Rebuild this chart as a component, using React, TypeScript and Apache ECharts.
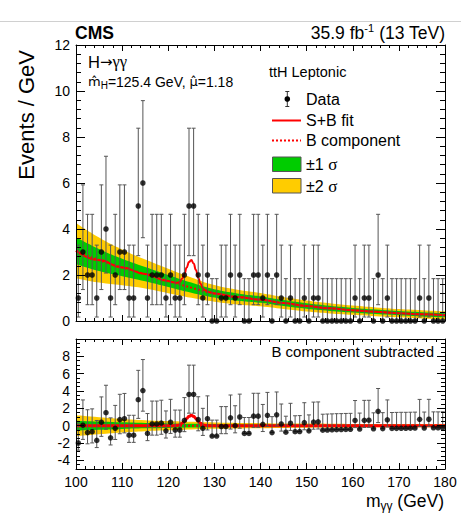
import React, { useEffect, useRef } from "react";
import * as echarts from "echarts";

// ---------- data ----------
const BIN_CENTERS: number[] = Array.from({ length: 80 }, (_, i) => 100.5 + i);

const COUNTS = [
  1, 3, 2, 2, 1, 3, 4, 1, 2, 3,
  3, 1, 1, 5, 6, 1, 2, 2, 2, 1,
  2, 1, 1, 2, 5, 5, 2, 1, 2, 0,
  0, 1, 1, 2, 1, 2, 0, 0, 2, 2,
  1, 2, 0, 2, 1, 0, 1, 0, 0, 1,
  0, 1, 1, 0, 0, 0, 0, 0, 0, 0,
  1, 0, 1, 1, 0, 2, 0, 1, 0, 0,
  0, 0, 0, 0, 1, 0, 1, 0, 0, 0,
];

const SUBTRACTED = [
  -2.0, 0.05, -0.8, -0.7, -1.7, 0.4, 1.5, -1.4, -0.3, 0.7,
  0.8, -1.1, -1.1, 3.0, 4.05, -0.9, 0.2, 0.2, 0.3, -0.6,
  0.4, -0.5, -0.5, 0.6, 3.6, 3.6, 0.7, -0.3, 0.8, -1.2,
  -1.2, -0.1, -0.1, 0.9, 0.0, 1.0, -0.9, -0.9, 1.1, 1.1,
  0.15, 1.2, -0.8, 1.25, 0.2, -0.75, 0.28, -0.7, -0.68, 0.35,
  -0.6, 0.42, 0.44, -0.52, -0.5, -0.48, -0.46, -0.45, -0.43, -0.42,
  0.6, -0.39, 0.62, 0.63, -0.36, 1.65, -0.34, 0.67, -0.32, -0.31,
  -0.3, -0.3, -0.29, -0.28, 0.73, -0.27, 0.74, -0.25, -0.25, -0.24,
];

// 68% Poisson (Garwood) interval lengths below / above a count n
const POISSON_ERR_LO = [0, 0.827, 1.292, 1.633, 1.914, 2.159, 2.379];
const POISSON_ERR_HI = [1.841, 2.299, 2.638, 2.918, 3.163, 3.383, 3.581];

const FIT_X = [100, 105, 110, 115, 120, 125, 130, 135, 140, 145, 150, 155, 160, 165, 170, 175, 180];
const B_FIT = [3.06, 2.65, 2.33, 2.04, 1.74, 1.45, 1.2, 1.04, 0.93, 0.78, 0.65, 0.55, 0.47, 0.4, 0.34, 0.29, 0.25];
const SIGMA1 = [0.58, 0.48, 0.38, 0.31, 0.26, 0.22, 0.18, 0.16, 0.14, 0.13, 0.12, 0.11, 0.1, 0.1, 0.09, 0.09, 0.09];
const SIGMA2 = [1.2, 0.98, 0.78, 0.63, 0.53, 0.44, 0.36, 0.32, 0.29, 0.26, 0.24, 0.22, 0.2, 0.19, 0.18, 0.18, 0.17];

const PEAK_X = [120, 121, 122, 122.5, 123, 123.5, 124, 124.5, 125, 125.5, 126, 126.5, 127, 127.5, 128, 129, 130];
const PEAK_SB = [1.74, 1.68, 1.66, 1.7, 1.84, 2.04, 2.33, 2.56, 2.65, 2.5, 2.22, 1.87, 1.62, 1.43, 1.34, 1.25, 1.2];
const PEAK_S = [0, 0.003, 0.04, 0.1, 0.27, 0.5, 0.82, 1.08, 1.2, 1.08, 0.82, 0.5, 0.27, 0.11, 0.04, 0.004, 0];

// ---------- styling ----------
const FONT = '"Liberation Sans", Arial, Helvetica, sans-serif';
const DEJAVU = '"DejaVu Sans", sans-serif';
const SERIF = '"Liberation Serif", "DejaVu Serif", serif';
const RED = "#ff0000";
const GREEN = "#00cc00";
const YELLOW = "#ffcc00";

const W = 461;
const H = 519;

function xAxis(grid: number, pos: string, labels: boolean) {
  return {
    type: "value",
    gridIndex: grid,
    position: pos,
    min: 100,
    max: 180,
    interval: 10,
    z: 10,
    axisLine: { show: true, onZero: false, lineStyle: { color: "#000", width: 1 } },
    axisTick: { show: true, inside: true, length: 6, lineStyle: { color: "#000", width: 1 } },
    minorTick: { show: true, splitNumber: 5, length: 3, lineStyle: { color: "#000", width: 1 } },
    splitLine: { show: false },
    minorSplitLine: { show: false },
    axisLabel: { show: labels, color: "#000", fontSize: 14, fontFamily: FONT, margin: 6 },
  };
}

function yMain(pos: string, labels: boolean) {
  return {
    type: "value",
    gridIndex: 0,
    position: pos,
    min: 0,
    max: 12,
    interval: 2,
    z: 10,
    axisLine: { show: true, onZero: false, lineStyle: { color: "#000", width: 1 } },
    axisTick: { show: true, inside: true, length: 9, lineStyle: { color: "#000", width: 1 } },
    minorTick: { show: true, splitNumber: 5, length: 5, lineStyle: { color: "#000", width: 1 } },
    splitLine: { show: false },
    minorSplitLine: { show: false },
    axisLabel: { show: labels, color: "#000", fontSize: 14, fontFamily: FONT, margin: 6 },
  };
}

function yLower(pos: string, labels: boolean) {
  return {
    type: "value",
    gridIndex: 1,
    position: pos,
    min: -5,
    max: 10,
    splitNumber: 7,
    minInterval: 2,
    maxInterval: 2,
    z: 10,
    axisLine: { show: true, onZero: false, lineStyle: { color: "#000", width: 1 } },
    axisTick: { show: true, inside: true, length: 8, lineStyle: { color: "#000", width: 1 } },
    minorTick: { show: true, splitNumber: 4, length: 4, lineStyle: { color: "#000", width: 1 } },
    splitLine: { show: false },
    minorSplitLine: { show: false },
    axisLabel: {
      show: labels,
      color: "#000",
      fontSize: 14,
      fontFamily: FONT,
      margin: 6,
      showMinLabel: false,
      showMaxLabel: false,
    },
  };
}

// Band drawn by painter's order: each curve filled down to the axis start
function bandSeries(xi: number, yi: number, center: number[] | null) {
  const c = (i: number) => (center ? center[i] : 0);
  const layers: [number[], string][] = [
    [FIT_X.map((_, i) => c(i) + SIGMA2[i]), YELLOW],
    [FIT_X.map((_, i) => c(i) + SIGMA1[i]), GREEN],
    [FIT_X.map((_, i) => c(i) - SIGMA1[i]), YELLOW],
    [FIT_X.map((_, i) => c(i) - SIGMA2[i]), "#ffffff"],
  ];
  return layers.map(([vals, color]) => ({
    type: "line",
    xAxisIndex: xi,
    yAxisIndex: yi,
    data: FIT_X.map((x, i) => [x, vals[i]]),
    smooth: true,
    symbol: "none",
    silent: true,
    z: 1,
    lineStyle: { width: 0, opacity: 0 },
    areaStyle: { color, opacity: 1, origin: "start" },
  }));
}

function errorBars(xi: number, yi: number, centers: number[]) {
  const data = BIN_CENTERS.map((x, i) => [
    x,
    centers[i] - POISSON_ERR_LO[COUNTS[i]],
    centers[i] + POISSON_ERR_HI[COUNTS[i]],
  ]);
  return {
    type: "custom",
    xAxisIndex: xi,
    yAxisIndex: yi,
    z: 4,
    silent: true,
    clip: false,
    data,
    encode: { x: 0, y: [1, 2] },
    renderItem: (params: any, api: any) => {
      const x = api.value(0);
      const a = api.coord([x, api.value(1)]);
      const b = api.coord([x, api.value(2)]);
      const cap = 2;
      const st = { stroke: "#555", lineWidth: 1, fill: "none" };
      return {
        type: "group",
        children: [
          { type: "line", shape: { x1: a[0], y1: a[1], x2: b[0], y2: b[1] }, style: st },
          { type: "line", shape: { x1: a[0] - cap, y1: a[1], x2: a[0] + cap, y2: a[1] }, style: st },
          { type: "line", shape: { x1: b[0] - cap, y1: b[1], x2: b[0] + cap, y2: b[1] }, style: st },
        ],
      };
    },
  };
}

function dots(xi: number, yi: number, vals: number[]) {
  return {
    type: "scatter",
    xAxisIndex: xi,
    yAxisIndex: yi,
    z: 5,
    clip: false,
    silent: true,
    symbol: "circle",
    symbolSize: 5.5,
    itemStyle: { color: "#000" },
    data: BIN_CENTERS.map((x, i) => [x, vals[i]]),
  };
}

function mergedPeak(base: number[], peak: number[]) {
  const pts: number[][] = [];
  FIT_X.forEach((x, i) => {
    if (x < PEAK_X[0]) pts.push([x, base[i]]);
  });
  PEAK_X.forEach((x, i) => pts.push([x, peak[i]]));
  FIT_X.forEach((x, i) => {
    if (x > PEAK_X[PEAK_X.length - 1]) pts.push([x, base[i]]);
  });
  return pts;
}

function txt(x: number, y: number, text: string, size: number, opts: any = {}) {
  return {
    type: "text",
    x,
    y,
    z: 20,
    rotation: opts.rotation || 0,
    style: {
      text,
      fill: "#000",
      fontSize: size,
      fontFamily: opts.family || FONT,
      fontWeight: opts.weight || "normal",
      align: opts.align || "left",
      verticalAlign: "middle",
      textAlign: opts.align || "left",
      textVerticalAlign: "middle",
      rich: opts.rich,
    },
  };
}

export default function App() {
  const ref = useRef<HTMLDivElement>(null);

  useEffect(() => {
    if (!ref.current) return;
    const chart = echarts.init(ref.current, null, { renderer: "svg", width: W, height: H });

    const zeros = FIT_X.map(() => 0);

    const option: any = {
      animation: false,
      backgroundColor: "#ffffff",
      grid: [
        { left: 76, top: 45, width: 369, height: 276, show: false },
        { left: 76, top: 339, width: 369, height: 130, show: false },
      ],
      xAxis: [xAxis(0, "bottom", false), xAxis(0, "top", false), xAxis(1, "bottom", true), xAxis(1, "top", false)],
      yAxis: [yMain("left", true), yMain("right", false), yLower("left", true), yLower("right", false)],
      series: [
        ...bandSeries(0, 0, B_FIT),
        {
          type: "line",
          xAxisIndex: 0,
          yAxisIndex: 0,
          z: 3,
          silent: true,
          symbol: "none",
          smooth: true,
          data: FIT_X.map((x, i) => [x, B_FIT[i]]),
          lineStyle: { color: RED, width: 2, type: [2, 2] },
        },
        {
          type: "line",
          xAxisIndex: 0,
          yAxisIndex: 0,
          z: 3,
          silent: true,
          symbol: "none",
          smooth: true,
          smoothMonotone: "x",
          data: mergedPeak(B_FIT, PEAK_SB),
          lineStyle: { color: RED, width: 2 },
        },
        errorBars(0, 0, COUNTS),
        dots(0, 0, COUNTS),

        ...bandSeries(2, 2, null),
        {
          type: "line",
          xAxisIndex: 2,
          yAxisIndex: 2,
          z: 3,
          silent: true,
          symbol: "none",
          data: FIT_X.map((x) => [x, 0]),
          lineStyle: { color: RED, width: 2, type: [2, 2] },
        },
        {
          type: "line",
          xAxisIndex: 2,
          yAxisIndex: 2,
          z: 3,
          silent: true,
          symbol: "none",
          smooth: true,
          smoothMonotone: "x",
          data: mergedPeak(zeros, PEAK_S),
          lineStyle: { color: RED, width: 3 },
        },
        errorBars(2, 2, SUBTRACTED),
        dots(2, 2, SUBTRACTED),
      ],
      graphic: [
        { type: "line", z: 20, shape: { x1: 0, y1: 21.5, x2: W, y2: 21.5 }, style: { stroke: "#d0d0d0", lineWidth: 1 } },
        txt(75, 33.2, "CMS", 17.5, { weight: "bold" }),
        txt(445, 32.5, "{n|35.9 fb}{s|-1}{n| (13 TeV)}", 17.5, {
          align: "right",
          rich: {
            n: { fontSize: 17.5, fontFamily: FONT, fill: "#000", lineHeight: 20 },
            s: { fontSize: 11, fontFamily: FONT, fill: "#000", verticalAlign: "top", lineHeight: 12 },
          },
        }),
        txt(88, 61.7, "{n|H}{a|\u2192}{g|\u03b3\u03b3}", 16, {
          rich: {
            n: { fontSize: 16.5, fontFamily: FONT, fill: "#000" },
            a: { fontSize: 15, fontFamily: DEJAVU, fill: "#000" },
            g: { fontSize: 16.5, fontFamily: SERIF, fill: "#000" },
          },
        }),
        txt(88, 81.8, "{h|m\u0302}{b|H}{n|=125.4 GeV, }{h|\u03bc\u0302}{n|=1.18}", 14, {
          rich: {
            n: { fontSize: 14, fontFamily: FONT, fill: "#000", lineHeight: 18 },
            h: { fontSize: 13, fontFamily: DEJAVU, fill: "#000", lineHeight: 18 },
            b: { fontSize: 10, fontFamily: FONT, fill: "#000", verticalAlign: "bottom", lineHeight: 11 },
          },
        }),
        txt(269, 71.6, "ttH Leptonic", 14.5),
        // legend
        { type: "line", z: 20, shape: { x1: 287.3, y1: 91.5, x2: 287.3, y2: 106.5 }, style: { stroke: "#333", lineWidth: 1 } },
        { type: "line", z: 20, shape: { x1: 285.3, y1: 91.5, x2: 289.3, y2: 91.5 }, style: { stroke: "#333", lineWidth: 1 } },
        { type: "line", z: 20, shape: { x1: 285.3, y1: 106.5, x2: 289.3, y2: 106.5 }, style: { stroke: "#333", lineWidth: 1 } },
        { type: "circle", z: 21, shape: { cx: 287.3, cy: 99, r: 2.8 }, style: { fill: "#000" } },
        txt(306, 99.2, "Data", 16),
        { type: "line", z: 20, shape: { x1: 272, y1: 120.5, x2: 301, y2: 120.5 }, style: { stroke: RED, lineWidth: 2 } },
        txt(306, 120.5, "S+B fit", 16),
        { type: "line", z: 20, shape: { x1: 272, y1: 140.5, x2: 301, y2: 140.5 }, style: { stroke: RED, lineWidth: 2, lineDash: [2, 2] } },
        txt(306, 140.5, "B component", 16),
        { type: "rect", z: 20, shape: { x: 272.5, y: 157, width: 28.5, height: 14.5 }, style: { fill: GREEN, stroke: "#555", lineWidth: 1 } },
        txt(306, 164.5, "{n|\u00b11 }{g|\u03c3}", 16, {
          rich: {
            n: { fontSize: 16, fontFamily: FONT, fill: "#000" },
            g: { fontSize: 17, fontFamily: SERIF, fill: "#000" },
          },
        }),
        { type: "rect", z: 20, shape: { x: 272.5, y: 178.5, width: 28.5, height: 14.5 }, style: { fill: YELLOW, stroke: "#555", lineWidth: 1 } },
        txt(306, 186, "{n|\u00b12 }{g|\u03c3}", 16, {
          rich: {
            n: { fontSize: 16, fontFamily: FONT, fill: "#000" },
            g: { fontSize: 17, fontFamily: SERIF, fill: "#000" },
          },
        }),
        txt(434, 351.7, "B component subtracted", 15, { align: "right" }),
        txt(444, 500.5, "{n|m}{b|\u03b3\u03b3}{n| (GeV)}", 17.5, {
          align: "right",
          rich: {
            n: { fontSize: 17.5, fontFamily: FONT, fill: "#000", lineHeight: 22 },
            b: { fontSize: 12, fontFamily: FONT, fill: "#000", verticalAlign: "bottom", lineHeight: 13 },
          },
        }),
        txt(26, 50, "Events / GeV", 22, { align: "right", rotation: Math.PI / 2 }),
      ],
    };

    chart.setOption(option);
    return () => chart.dispose();
  }, []);

  return (
    <div
      ref={ref}
      style={{ position: "absolute", left: 0, top: 0, width: W, height: H, background: "#fff" }}
    />
  );
}
